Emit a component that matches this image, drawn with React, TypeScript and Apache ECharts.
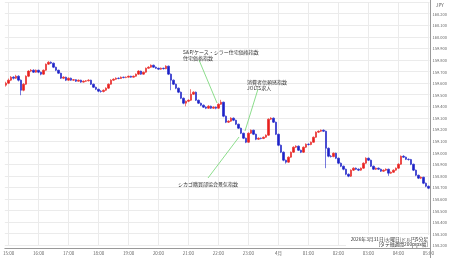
import React, { useEffect, useRef } from "react";
import * as echarts from "echarts";

const FONT = '"Noto Sans CJK JP", "Noto Sans", sans-serif';

// 5-minute candles starting 14:55 (JST), [open, close, low, high]
const START_MINUTE = 14 * 60 + 55;
const STEP_MINUTES = 5;

const hourTicks = [
  "15:00", "16:00", "17:00", "18:00", "19:00", "20:00", "21:00", "22:00", "23:00",
  "00:00", "01:00", "02:00", "03:00", "04:00", "05:00",
];
const hourTickLabels: Record<string, string> = { "00:00": "4月" };

const ohlc: number[][] = [
  [159.583, 159.600, 159.570, 159.612], [159.600, 159.626, 159.592, 159.640], [159.626, 159.652, 159.618, 159.662],
  [159.652, 159.643, 159.632, 159.660], [159.643, 159.660, 159.636, 159.672], [159.660, 159.626, 159.615, 159.668],
  [159.626, 159.539, 159.496, 159.632], [159.539, 159.591, 159.530, 159.600], [159.591, 159.660, 159.585, 159.668],
  [159.660, 159.704, 159.652, 159.712], [159.704, 159.712, 159.695, 159.722], [159.712, 159.695, 159.688, 159.720],
  [159.695, 159.712, 159.690, 159.718], [159.712, 159.695, 159.686, 159.716], [159.695, 159.678, 159.668, 159.700],
  [159.678, 159.712, 159.672, 159.718], [159.712, 159.764, 159.706, 159.770], [159.764, 159.781, 159.758, 159.790],
  [159.781, 159.773, 159.765, 159.788], [159.773, 159.738, 159.730, 159.778], [159.738, 159.712, 159.704, 159.742],
  [159.712, 159.686, 159.680, 159.716], [159.686, 159.643, 159.636, 159.690], [159.643, 159.652, 159.635, 159.660],
  [159.652, 159.626, 159.618, 159.656], [159.626, 159.643, 159.620, 159.650], [159.643, 159.626, 159.620, 159.648],
  [159.626, 159.630, 159.620, 159.636], [159.630, 159.617, 159.610, 159.634], [159.617, 159.626, 159.612, 159.632],
  [159.626, 159.609, 159.602, 159.630], [159.609, 159.617, 159.604, 159.624], [159.617, 159.620, 159.611, 159.627],
  [159.620, 159.626, 159.615, 159.634], [159.626, 159.591, 159.584, 159.630], [159.591, 159.565, 159.558, 159.596],
  [159.565, 159.548, 159.540, 159.570], [159.548, 159.531, 159.522, 159.552], [159.531, 159.528, 159.518, 159.540],
  [159.528, 159.539, 159.520, 159.546], [159.539, 159.557, 159.532, 159.564], [159.557, 159.591, 159.550, 159.598],
  [159.591, 159.626, 159.586, 159.634], [159.626, 159.634, 159.620, 159.642], [159.634, 159.643, 159.628, 159.650],
  [159.643, 159.640, 159.634, 159.650], [159.640, 159.652, 159.636, 159.658], [159.652, 159.648, 159.642, 159.656],
  [159.648, 159.652, 159.643, 159.658], [159.652, 159.660, 159.648, 159.665], [159.660, 159.652, 159.647, 159.664],
  [159.652, 159.660, 159.648, 159.666], [159.660, 159.678, 159.655, 159.684], [159.678, 159.704, 159.672, 159.712],
  [159.704, 159.678, 159.672, 159.708], [159.678, 159.695, 159.673, 159.700], [159.695, 159.729, 159.690, 159.735],
  [159.729, 159.738, 159.724, 159.746], [159.738, 159.755, 159.732, 159.762], [159.755, 159.738, 159.732, 159.760],
  [159.738, 159.729, 159.722, 159.744], [159.729, 159.721, 159.715, 159.734], [159.721, 159.729, 159.716, 159.735],
  [159.729, 159.725, 159.718, 159.734], [159.725, 159.747, 159.720, 159.755], [159.747, 159.678, 159.670, 159.752],
  [159.678, 159.626, 159.539, 159.684], [159.626, 159.591, 159.584, 159.632], [159.591, 159.557, 159.548, 159.596],
  [159.557, 159.522, 159.514, 159.562], [159.522, 159.470, 159.462, 159.528], [159.470, 159.427, 159.418, 159.476],
  [159.427, 159.444, 159.400, 159.450], [159.444, 159.453, 159.436, 159.460], [159.453, 159.505, 159.446, 159.548],
  [159.505, 159.522, 159.498, 159.530], [159.522, 159.453, 159.446, 159.528], [159.453, 159.427, 159.420, 159.458],
  [159.427, 159.410, 159.402, 159.432], [159.410, 159.393, 159.386, 159.416], [159.393, 159.384, 159.376, 159.400],
  [159.384, 159.401, 159.378, 159.410], [159.401, 159.384, 159.377, 159.406], [159.384, 159.393, 159.378, 159.400],
  [159.393, 159.384, 159.375, 159.398], [159.384, 159.418, 159.378, 159.426], [159.418, 159.436, 159.412, 159.456],
  [159.436, 159.315, 159.306, 159.440], [159.315, 159.263, 159.255, 159.320], [159.263, 159.272, 159.256, 159.280],
  [159.272, 159.298, 159.265, 159.306], [159.298, 159.280, 159.272, 159.304], [159.280, 159.246, 159.238, 159.285],
  [159.246, 159.211, 159.204, 159.250], [159.211, 159.168, 159.160, 159.216], [159.168, 159.125, 159.117, 159.172],
  [159.125, 159.090, 159.082, 159.130], [159.090, 159.168, 159.085, 159.175], [159.168, 159.194, 159.162, 159.200],
  [159.194, 159.159, 159.152, 159.198], [159.159, 159.116, 159.108, 159.164], [159.116, 159.125, 159.110, 159.132],
  [159.125, 159.122, 159.115, 159.130], [159.122, 159.133, 159.117, 159.140], [159.133, 159.151, 159.128, 159.158],
  [159.151, 159.289, 159.145, 159.296], [159.289, 159.298, 159.282, 159.306], [159.298, 159.263, 159.256, 159.304],
  [159.263, 159.159, 159.152, 159.268], [159.159, 159.064, 159.056, 159.164], [159.064, 159.004, 158.996, 159.070],
  [159.004, 158.935, 158.926, 159.010], [158.935, 158.918, 158.905, 158.940], [158.918, 158.961, 158.912, 158.968],
  [158.961, 159.004, 158.955, 159.010], [159.004, 159.047, 158.998, 159.055], [159.047, 159.056, 159.040, 159.064],
  [159.056, 159.021, 159.014, 159.062], [159.021, 159.004, 158.996, 159.026], [159.004, 159.047, 158.998, 159.054],
  [159.047, 159.073, 159.040, 159.080], [159.073, 159.070, 159.062, 159.080], [159.070, 159.090, 159.064, 159.096],
  [159.090, 159.133, 159.085, 159.140], [159.133, 159.177, 159.128, 159.184], [159.177, 159.185, 159.170, 159.192],
  [159.185, 159.194, 159.178, 159.200], [159.194, 159.185, 159.178, 159.200], [159.185, 159.038, 158.866, 159.190],
  [159.038, 158.969, 158.960, 159.045], [158.969, 158.966, 158.958, 158.980], [158.966, 158.995, 158.960, 159.002],
  [158.995, 158.952, 158.944, 159.000], [158.952, 158.909, 158.900, 158.958], [158.909, 158.883, 158.875, 158.915],
  [158.883, 158.857, 158.848, 158.888], [158.857, 158.814, 158.805, 158.862], [158.814, 158.797, 158.788, 158.820],
  [158.797, 158.849, 158.790, 158.856], [158.849, 158.866, 158.842, 158.874], [158.866, 158.857, 158.850, 158.872],
  [158.857, 158.849, 158.841, 158.864], [158.849, 158.866, 158.843, 158.872], [158.866, 158.909, 158.860, 158.916],
  [158.909, 158.952, 158.903, 158.960], [158.952, 158.935, 158.928, 158.958], [158.935, 158.883, 158.876, 158.940],
  [158.883, 158.857, 158.850, 158.888], [158.857, 158.866, 158.850, 158.872], [158.866, 158.857, 158.850, 158.872],
  [158.857, 158.840, 158.833, 158.862], [158.840, 158.849, 158.834, 158.856], [158.849, 158.857, 158.842, 158.864],
  [158.857, 158.823, 158.800, 158.862], [158.823, 158.831, 158.816, 158.838], [158.831, 158.849, 158.825, 158.856],
  [158.849, 158.866, 158.843, 158.872], [158.866, 158.900, 158.860, 158.908], [158.900, 158.969, 158.894, 158.976],
  [158.969, 158.961, 158.954, 158.978], [158.961, 158.943, 158.936, 158.966], [158.943, 158.940, 158.932, 158.950],
  [158.940, 158.900, 158.892, 158.946], [158.900, 158.849, 158.841, 158.905], [158.849, 158.805, 158.797, 158.854],
  [158.805, 158.780, 158.772, 158.810], [158.780, 158.788, 158.772, 158.795], [158.788, 158.736, 158.728, 158.792],
  [158.736, 158.710, 158.702, 158.742], [158.710, 158.693, 158.685, 158.716],
];

const annotations = [
  { text: "S&P/ケース・シラー住宅価格指数\n住宅価格指数", x: 183, y: 48, line: [199, 60, 217, 103] },
  { text: "消費者信頼感指数\nJOLTS求人", x: 247, y: 78, line: [258, 89, 245, 131] },
  { text: "シカゴ購買部協会景気指数", x: 178, y: 180, line: [208, 178, 239, 137] },
];

const titleLines = ["2026年3月31日(火曜日)ドル円5分足", "[タテ軸週間200pips幅]"];

const times: string[] = ohlc.map((_, i) => {
  const m = (START_MINUTE + STEP_MINUTES * i) % 1440;
  return `${String(Math.floor(m / 60)).padStart(2, "0")}:${String(m % 60).padStart(2, "0")}`;
});

export default function App() {
  const ref = useRef<HTMLDivElement>(null);
  useEffect(() => {
    if (!ref.current) return;
    const chart = echarts.init(ref.current, null, { renderer: "svg" });
    const isHour = (_i: number, v: string) => hourTicks.includes(v);
    const graphics: any[] = [];
    annotations.forEach((a) => {
      graphics.push({
        type: "line",
        shape: { x1: a.line[0], y1: a.line[1], x2: a.line[2], y2: a.line[3] },
        style: { stroke: "#6fd46f", lineWidth: 0.8 },
        z: 20,
      });
      graphics.push({
        type: "text",
        x: a.x,
        y: a.y,
        style: {
          text: a.text,
          fontSize: 5,
          lineHeight: 6,
          fontFamily: FONT,
          fill: "#333",
          verticalAlign: "top",
        },
        z: 21,
      });
    });
    graphics.push({
      type: "rect",
      shape: { x: 346, y: 235, width: 84, height: 12 },
      style: { fill: "#ffffff" },
      z: 18,
    });
    graphics.push({
      type: "text",
      x: 428,
      y: 235.5,
      style: {
        text: titleLines.join("\n"),
        fontSize: 4.8,
        lineHeight: 5.6,
        fontFamily: FONT,
        fill: "#333",
        align: "right",
        verticalAlign: "top",
      },
      z: 21,
    });
    graphics.push({
      type: "line",
      shape: { x1: 430.5, y1: 0, x2: 430.5, y2: 258 },
      style: { stroke: "#999", lineWidth: 1 },
      z: 22,
    });
    graphics.push({
      type: "text",
      x: 436,
      y: 3,
      style: { text: "JPY", fontSize: 4.5, fontFamily: FONT, fill: "#555", verticalAlign: "top" },
      z: 21,
    });

    chart.setOption({
      animation: false,
      grid: { left: 0, right: 20, top: 2.1, bottom: 12.7, containLabel: false },
      xAxis: {
        type: "category",
        data: times,
        boundaryGap: true,
        offset: 2.7,
        axisLine: { show: true, lineStyle: { color: "#999", width: 1 } },
        axisTick: { show: false },
        axisLabel: {
          interval: isHour,
          formatter: (v: string) => hourTickLabels[v] ?? v,
          fontSize: 4.5,
          color: "#666",
          margin: 3,
          fontFamily: FONT,
        },
        splitLine: {
          show: true,
          interval: isHour,
          alignWithLabel: true,
          lineStyle: { color: "#ebebeb", width: 1 },
        },
      },
      yAxis: {
        type: "value",
        position: "right",
        min: 158.2,
        max: 160.3,
        interval: 0.1,
        axisLine: { show: false },
        axisTick: { show: false },
        axisLabel: {
          formatter: (v: number) => v.toFixed(3),
          fontSize: 4,
          color: "#666",
          margin: 3,
          showMaxLabel: false,
          fontFamily: FONT,
        },
        splitLine: { show: true, lineStyle: { color: "#ebebeb", width: 1 } },
      },
      series: [
        {
          type: "candlestick",
          data: ohlc,
          barWidth: 2,
          itemStyle: {
            color: "#e8201e",
            color0: "#1c22c8",
            borderColor: "#e8201e",
            borderColor0: "#1c22c8",
            borderWidth: 0.6,
          },
        },
      ],
      graphic: graphics,
    });
    return () => chart.dispose();
  }, []);
  return <div ref={ref} style={{ width: 450, height: 258, position: "fixed", left: 0, top: 0 }} />;
}
